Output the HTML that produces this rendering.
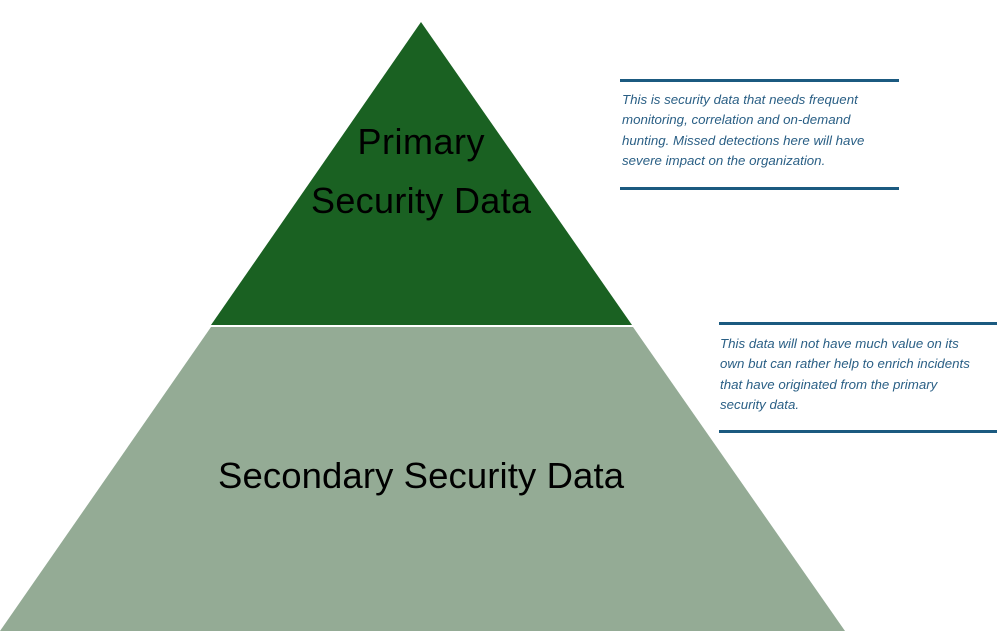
<!DOCTYPE html>
<html><head><meta charset="utf-8"><style>
html,body{margin:0;padding:0;background:#fff;}
body{width:1000px;height:635px;position:relative;overflow:hidden;font-family:"Liberation Sans",sans-serif;}
.t{position:absolute;font-style:italic;font-size:13.3px;line-height:20.3px;color:#2a5f85;white-space:nowrap;}
.ln{position:absolute;height:3px;background:#1b5a80;}
</style></head><body>
<svg width="1000" height="635" style="position:absolute;left:0;top:0">
<polygon points="421,22 632,325 211,325" fill="#1a6122"/>
<polygon points="211,327 633,327 845,631 0,631" fill="#94ab95"/>
<text x="421" y="154" text-anchor="middle" font-family="Liberation Sans,sans-serif" font-size="36" textLength="127" fill="#000">Primary</text>
<text x="421" y="213" text-anchor="middle" font-family="Liberation Sans,sans-serif" font-size="36" textLength="220" fill="#000">Security Data</text>
<text x="421" y="488" text-anchor="middle" font-family="Liberation Sans,sans-serif" font-size="36.5" textLength="406" fill="#000">Secondary Security Data</text>
</svg>
<div class="ln" style="left:620px;top:79px;width:279px"></div>
<div class="t" style="left:622px;top:90px;">This is security data that needs frequent<br>monitoring, correlation and on-demand<br>hunting. Missed detections here will have<br>severe impact on the organization.</div>
<div class="ln" style="left:620px;top:187px;width:279px"></div>
<div class="ln" style="left:719px;top:322px;width:278px"></div>
<div class="t" style="left:720px;top:334px;">This data will not have much value on its<br>own but can rather help to enrich incidents<br>that have originated from the primary<br>security data.</div>
<div class="ln" style="left:719px;top:430px;width:278px"></div>
</body></html>
